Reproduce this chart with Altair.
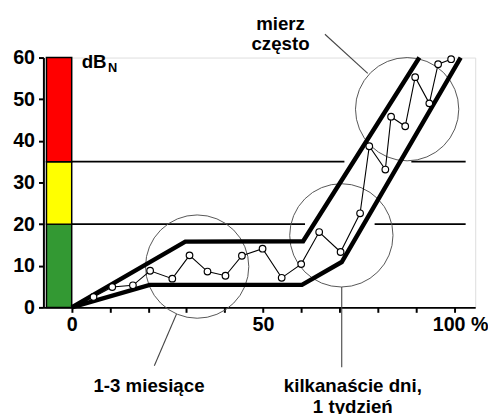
import altair as alt
import pandas as pd

# measured series (x in %, y in dB_N)
pts_x = [5.7, 10.6, 16.0, 20.5, 26.3, 30.8, 35.5, 40.2, 44.5, 49.9, 54.9, 60.0,
         64.7, 70.3, 75.4, 77.8, 82.0, 83.5, 87.2, 89.8, 93.5, 95.8, 99.2]
pts_y = [2.5, 4.9, 5.3, 8.8, 6.9, 12.5, 8.6, 7.6, 12.4, 14.1, 7.1, 10.4,
         18.1, 13.3, 22.6, 38.7, 33.1, 45.8, 43.5, 55.3, 49.0, 58.4, 59.6]
line_start_x = [0.0]
line_start_y = [0.0]

upper_x = [0.0, 29.7, 60.5, 90.9]
upper_y = [0.0, 15.8, 15.9, 60.0]
lower_x = [0.0, 20.4, 60.2, 70.6, 101.7]
lower_y = [0.0, 5.4, 5.4, 10.9, 60.0]

zone_lo = [0, 20, 35]
zone_hi = [20, 35, 60]
zone_color = ["#339933", "#ffff00", "#ff0000"]

grid_y = [35, 35, 20, 20]
grid_x0 = [0, 88.8, 0, 79.2]
grid_x1 = [71.3, 103.0, 61.0, 103.0]

circ_x = [32.8, 70.5, 87.7]
circ_y = [9.8, 17.3, 47.6]

ann_x0 = [66.2, 21.6, 70.6]
ann_y0 = [65.6, -14.0, -14.4]
ann_x1 = [77.4, 27.4, 70.6]
ann_y1 = [56.2, -1.6, 4.9]

lab_text = ["mierz", "często", "1-3 miesiące", "kilkanaście dni,", "1 tydzień"]
lab_x = [54.6, 54.6, 20.2, 73.5, 73.5]
lab_y = [66.6, 61.7, -20.3, -20.3, -25.3]

x_ticks = [0, 10, 20, 30, 40, 50, 60, 70, 80, 90, 100]
y_ticks = [0, 5, 10, 15, 20, 25, 30, 35, 40, 45, 50, 55, 60]

FONT = "Liberation Sans"

xscale = alt.Scale(domain=[-7.4, 105.5], nice=False, zero=False)
yscale = alt.Scale(domain=[0, 60], nice=False, zero=False)

xaxis = alt.Axis(
    values=x_ticks,
    labelExpr="datum.value == 0 ? '0' : datum.value == 50 ? '50' : datum.value == 100 ? '100 %' : ''",
    labelOffset={"condition": {"test": "datum.value == 100", "value": 6}, "value": 0},
    tickSize=5, tickWidth=2, tickColor="black",
    domainWidth=2, domainColor="black",
    labelFont=FONT, labelFontSize=20, labelFontWeight="bold", labelColor="black",
    labelPadding=2, labelFlush=False, labelOverlap=False, grid=False, title=None,
)
yaxis = alt.Axis(
    values=y_ticks,
    labelExpr="datum.value % 10 === 0 ? datum.label : ''",
    tickSize={"condition": {"test": "datum.value % 10 === 0", "value": 5}, "value": 3},
    tickWidth=2, tickColor="black",
    domainWidth=2, domainColor="black",
    labelFont=FONT, labelFontSize=20, labelFontWeight="bold", labelColor="black",
    labelPadding=4, labelOverlap=False, grid=False, title=None,
)

zones = pd.DataFrame({"lo": zone_lo, "hi": zone_hi, "c": zone_color})
zone_layer = alt.Chart(zones).mark_rect(stroke="black", strokeWidth=1.5).encode(
    x=alt.X(datum=-6.6, scale=xscale, axis=xaxis),
    x2=alt.datum(0),
    y=alt.Y("lo:Q", scale=yscale, axis=yaxis),
    y2="hi:Q",
    color=alt.Color("c:N", scale=None),
)

grid = pd.DataFrame({"y": grid_y, "x0": grid_x0, "x1": grid_x1})
grid_layer = alt.Chart(grid).mark_rule(color="black", strokeWidth=1.6).encode(
    x=alt.X("x0:Q", title=None), x2="x1:Q", y=alt.Y("y:Q", title=None)
)

circ = pd.DataFrame({"x": circ_x, "y": circ_y})
circ_layer = alt.Chart(circ).mark_point(
    shape="circle", size=11025, filled=False, stroke="#555555", strokeWidth=1, opacity=1
).encode(x=alt.X("x:Q", title=None), y=alt.Y("y:Q", title=None))

ann = pd.DataFrame({"x0": ann_x0, "y0": ann_y0, "x1": ann_x1, "y1": ann_y1})
ann_layer = alt.Chart(ann).mark_rule(color="#444444", strokeWidth=1.1).encode(
    x=alt.X("x0:Q", title=None), y=alt.Y("y0:Q", title=None), x2="x1:Q", y2="y1:Q"
)

bands = pd.DataFrame({
    "x": upper_x + lower_x,
    "y": upper_y + lower_y,
    "g": ["upper"] * len(upper_x) + ["lower"] * len(lower_x),
    "o": list(range(len(upper_x))) + list(range(len(lower_x))),
})
band_layer = alt.Chart(bands).mark_line(color="black", strokeWidth=4.5).encode(
    x=alt.X("x:Q", title=None), y=alt.Y("y:Q", title=None),
    detail="g:N", order="o:Q",
)

series = pd.DataFrame({"x": line_start_x + pts_x, "y": line_start_y + pts_y})
series["o"] = range(len(series))
line_layer = alt.Chart(series).mark_line(color="black", strokeWidth=1.1).encode(
    x=alt.X("x:Q", title=None), y=alt.Y("y:Q", title=None), order="o:Q"
)

pts = pd.DataFrame({"x": pts_x, "y": pts_y})
pt_layer = alt.Chart(pts).mark_point(
    shape="circle", size=45, filled=True, fill="white", stroke="black", strokeWidth=1.2, opacity=1
).encode(x=alt.X("x:Q", title=None), y=alt.Y("y:Q", title=None))

labs = pd.DataFrame({"t": lab_text, "x": lab_x, "y": lab_y})
text_layer = alt.Chart(labs).mark_text(
    font=FONT, fontSize=19, fontWeight="bold", align="center", baseline="alphabetic", color="black"
).encode(x=alt.X("x:Q", title=None), y=alt.Y("y:Q", title=None), text="t:N")

db_layer = alt.Chart(pd.DataFrame({"a": [0]})).mark_text(
    font=FONT, fontSize=19, fontWeight="bold", align="left", baseline="alphabetic", color="black", text="dB"
).encode(x=alt.datum(2.6), y=alt.datum(57.6))
n_layer = alt.Chart(pd.DataFrame({"a": [0]})).mark_text(
    font=FONT, fontSize=13, fontWeight="bold", align="left", baseline="alphabetic", color="black", text="N"
).encode(x=alt.datum(9.5), y=alt.datum(56.6))

chart = alt.layer(
    zone_layer, grid_layer, circ_layer, ann_layer, band_layer, line_layer, pt_layer,
    text_layer, db_layer, n_layer,
).properties(
    width=439, height=254, autosize="none",
    padding={"left": 36, "top": 47, "right": 13, "bottom": 105},
).configure_view(strokeWidth=0).configure(background="white")

chart.save("out.html", embed_options={"renderer": "svg", "actions": False})
